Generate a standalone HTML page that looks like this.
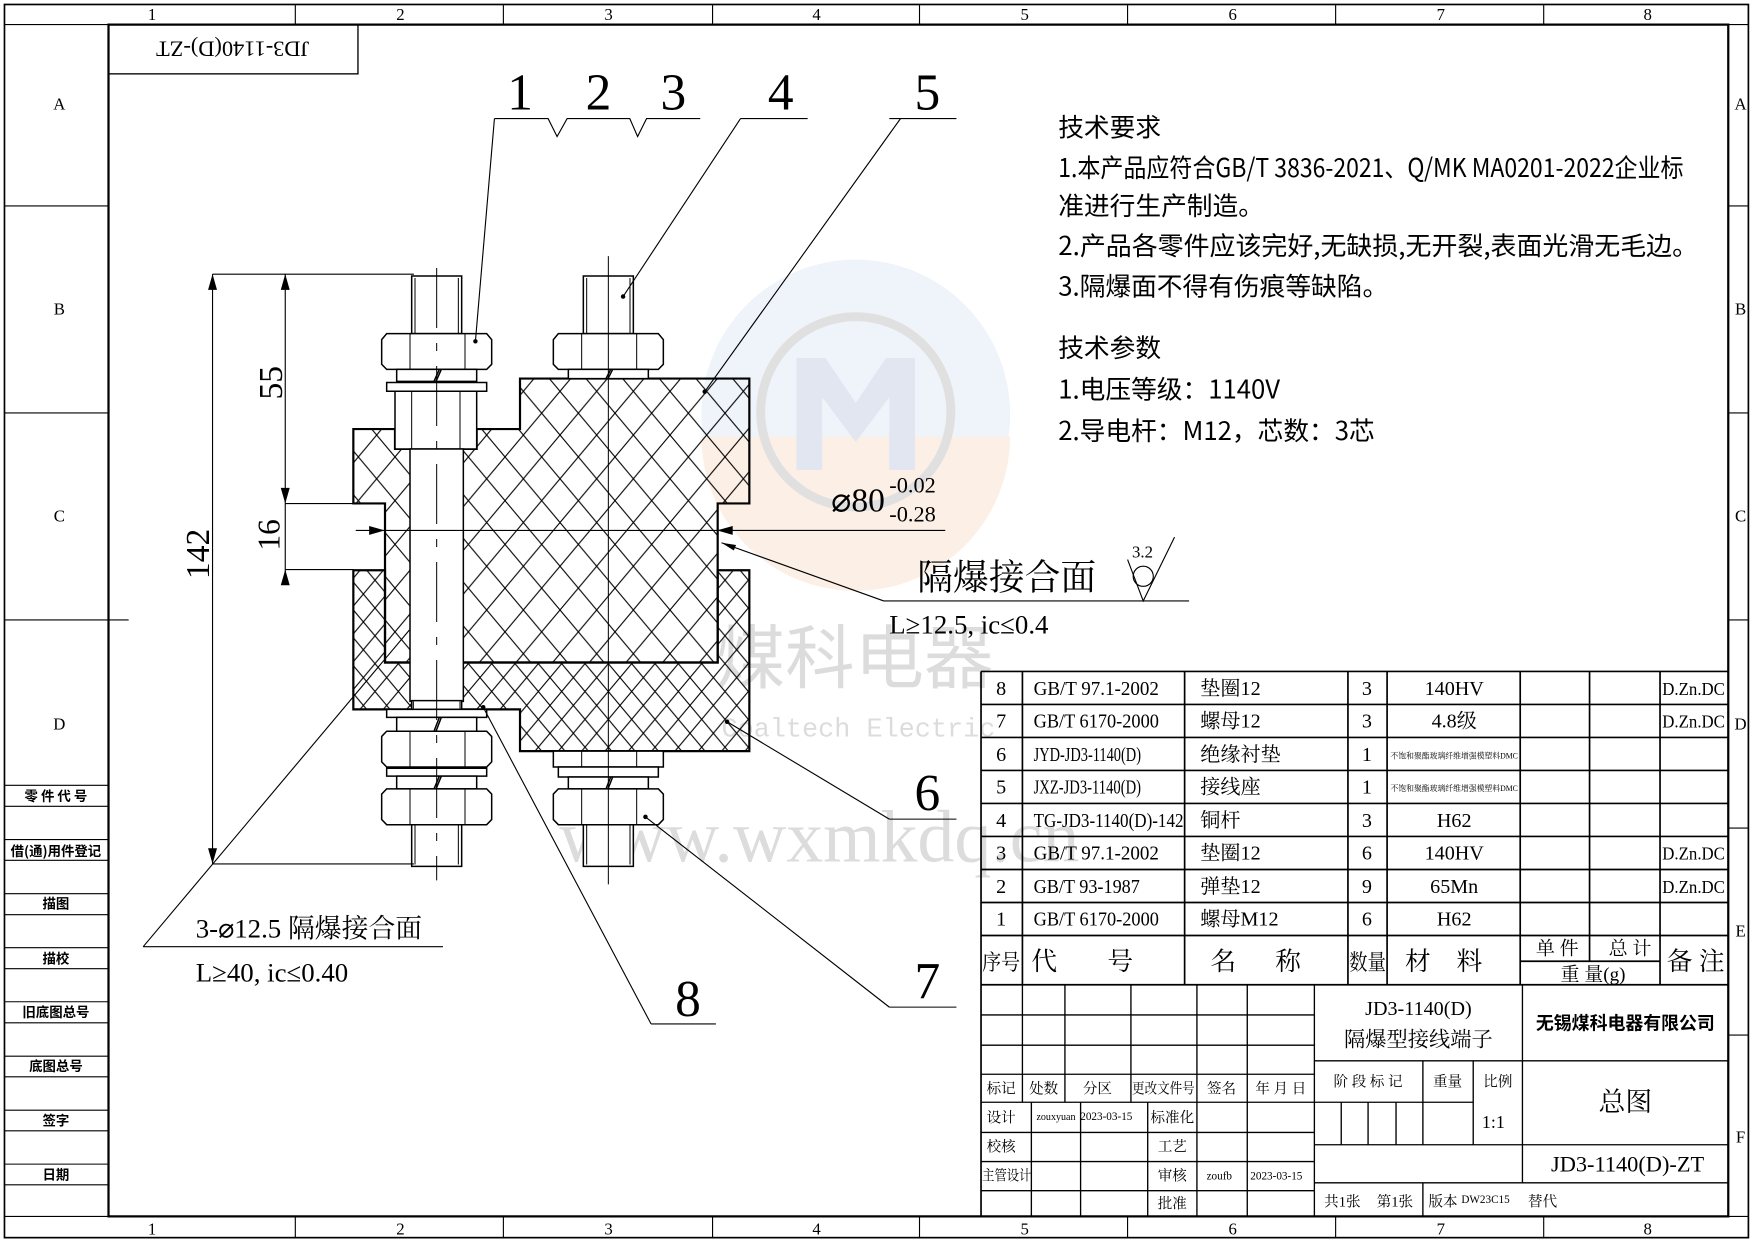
<!DOCTYPE html>
<html><head><meta charset="utf-8"><style>html,body{margin:0;padding:0;background:#fff}svg{display:block}</style></head><body>
<svg width="1754" height="1241" viewBox="0 0 1568 1109" preserveAspectRatio="none" xmlns="http://www.w3.org/2000/svg" font-family="'Liberation Serif','Noto Serif CJK SC',serif">
<defs>
<pattern id="h1" patternUnits="userSpaceOnUse" width="110" height="110"><path d="M0,0L110,110M110,0L0,110" stroke="#000" stroke-width="3"/></pattern>
<pattern id="h2" patternUnits="userSpaceOnUse" width="70" height="70"><path d="M0,0L70,70M70,0L0,70" stroke="#000" stroke-width="3"/></pattern>
</defs>
<rect width="1568" height="1109" fill="#fff"/>
<g opacity="0.55">
<circle cx="765" cy="370" r="138" fill="#e3ecf6"/>
<path d="M627,390 A138,138 0 0 0 903,390 Z" fill="#fbe2d3"/>
<circle cx="765" cy="368" r="85" fill="none" stroke="#c8c8c8" stroke-width="8"/>
<path d="M712,420 V320 H738 L765,360 L792,320 H818 V420 H795 V355 L765,395 L735,355 V420 Z" fill="#c9d3e6"/>
</g>
<text x="640" y="610" font-size="62" fill="#dcdcdc" font-family="'Noto Sans CJK SC',sans-serif">煤科电器</text>
<text x="645" y="658" font-size="24" fill="#dcdcdc" font-family="'Liberation Mono',monospace">Coaltech Electric</text>
<text x="500" y="770" font-size="66" fill="#dcdcdc">www.wxmkdq.cn</text>

<g fill="none" stroke="#000">
<rect x="4" y="4" width="1559" height="1102" stroke-width="1.5"/>
<rect x="97" y="22" width="1448" height="1065" stroke-width="2"/>
<path d="M4,22H97M1545,22H1563M4,1087H97M1545,1087H1563" stroke-width="1"/>
<path d="M264,4V22M450,4V22M637,4V22M822,4V22M1008,4V22M1194,4V22M1380,4V22M264,1087V1106M450,1087V1106M637,1087V1106M822,1087V1106M1008,1087V1106M1194,1087V1106M1380,1087V1106" stroke-width="1"/>
<path d="M4,184H97M4,369H97M4,554H115M1545,184H1563M1545,369H1563M1545,554H1563M1545,740H1563M1545,925H1563" stroke-width="1"/>
<rect x="97" y="22" width="223" height="44" stroke-width="1.2"/>
<path d="M4,701.8H97M4,720.6H97M4,750.3H97M4,768.8H97M4,798.6H97M4,817.4H97M4,846.9H97M4,865.7H97M4,895.2H97M4,914H97M4,943.8H97M4,962.3H97M4,992.1H97M4,1010.5H97M4,1040.3H97M4,1058.8H97" stroke-width="1"/>
</g>
<g font-size="15" text-anchor="middle">
<text x="136" y="18">1</text><text x="358" y="18">2</text><text x="544" y="18">3</text><text x="730" y="18">4</text><text x="916" y="18">5</text><text x="1102" y="18">6</text><text x="1288" y="18">7</text><text x="1473" y="18">8</text>
<text x="136" y="1103">1</text><text x="358" y="1103">2</text><text x="544" y="1103">3</text><text x="730" y="1103">4</text><text x="916" y="1103">5</text><text x="1102" y="1103">6</text><text x="1288" y="1103">7</text><text x="1473" y="1103">8</text>
<text x="53" y="98">A</text><text x="53" y="281">B</text><text x="53" y="466">C</text><text x="53" y="652">D</text>
<text x="1556" y="98">A</text><text x="1556" y="281">B</text><text x="1556" y="466">C</text><text x="1556" y="652">D</text><text x="1556" y="837">E</text><text x="1556" y="1021">F</text>
</g>
<g font-size="12" text-anchor="middle" font-family="'Noto Sans CJK SC',sans-serif" font-weight="bold">
<text x="50" y="716">零 件 代 号</text><text x="50" y="765">借(通)用件登记</text><text x="50" y="812">描图</text><text x="50" y="861">描校</text><text x="50" y="909">旧底图总号</text><text x="50" y="957">底图总号</text><text x="50" y="1006">签字</text><text x="50" y="1054">日期</text>
</g>
<text transform="translate(208,44) rotate(180)" x="0" y="7" font-size="20" text-anchor="middle">JD3-1140(D)-ZT</text>

<g transform="matrix(0.29799,0,0,0.35531,303.95,232.43)" stroke="#000">
<path d="M40,425H165V475H410V425H540V298H1228V612H1133V1012H135V612H40Z" fill="url(#h1)" stroke-width="2.2" vector-effect="non-scaling-stroke"/>
<path d="M40,780H135V1012H1133V780H1228V1235H540V1130H40Z" fill="url(#h2)" stroke-width="2.2" vector-effect="non-scaling-stroke"/>
<g fill="#fff" stroke-width="1.5">
<rect x="215" y="40" width="150" height="145" vector-effect="non-scaling-stroke"/>
<path d="M140,185H440L455,200V262L440,275H140L125,262V200Z" vector-effect="non-scaling-stroke"/>
<rect x="170" y="275" width="240" height="30" vector-effect="non-scaling-stroke"/>
<rect x="140" y="308" width="300" height="22" vector-effect="non-scaling-stroke"/>
<rect x="165" y="330" width="245" height="145" vector-effect="non-scaling-stroke"/>
<rect x="210" y="475" width="160" height="635" vector-effect="non-scaling-stroke"/>
<rect x="215" y="1108" width="150" height="22" vector-effect="non-scaling-stroke"/>
<rect x="140" y="1130" width="300" height="20" vector-effect="non-scaling-stroke"/>
<rect x="170" y="1150" width="240" height="35" vector-effect="non-scaling-stroke"/>
<path d="M140,1185H440L455,1198V1262L440,1275H140L125,1262V1198Z" vector-effect="non-scaling-stroke"/>
<rect x="140" y="1278" width="300" height="20" vector-effect="non-scaling-stroke"/>
<rect x="170" y="1298" width="240" height="32" vector-effect="non-scaling-stroke"/>
<path d="M140,1330H440L455,1343V1407L440,1420H140L125,1407V1343Z" vector-effect="non-scaling-stroke"/>
<rect x="215" y="1420" width="150" height="105" vector-effect="non-scaling-stroke"/>
<rect x="730" y="40" width="150" height="145" vector-effect="non-scaling-stroke"/>
<path d="M655,185H955L970,200V262L955,275H655L640,262V200Z" vector-effect="non-scaling-stroke"/>
<rect x="685" y="275" width="240" height="23" vector-effect="non-scaling-stroke"/>
<rect x="640" y="1235" width="330" height="40" vector-effect="non-scaling-stroke"/>
<rect x="655" y="1275" width="300" height="25" vector-effect="non-scaling-stroke"/>
<rect x="685" y="1300" width="240" height="30" vector-effect="non-scaling-stroke"/>
<path d="M655,1330H955L970,1343V1407L955,1420H655L640,1407V1343Z" vector-effect="non-scaling-stroke"/>
<rect x="730" y="1420" width="150" height="105" vector-effect="non-scaling-stroke"/>
</g>
<g fill="none" stroke-width="1">
<path d="M225,45V185M355,45V185M210,185V275M375,185V275M215,330V475M360,330V475M225,1420V1520M355,1420V1520M210,1185V1275M375,1185V1275M210,1330V1420M375,1330V1420M740,45V185M870,45V185M725,185V275M890,185V275M725,1235V1275M890,1235V1275M725,1330V1420M890,1330V1420M740,1420V1520M870,1420V1520M220,1110V1130M360,1110V1130" vector-effect="non-scaling-stroke"/>
<path d="M282,305L298,275M288,305L304,275M282,1185L298,1150M288,1185L304,1150M282,1330L298,1298M288,1330L304,1298M798,298L812,275M804,298L818,275M798,1330L812,1300M804,1330L818,1300" vector-effect="non-scaling-stroke" stroke-width="1.5"/>
<path d="M290,20V1560" stroke-dasharray="60,15,8,15" vector-effect="non-scaling-stroke"/>
<path d="M805,-10V1570" vector-effect="non-scaling-stroke"/>
</g>
</g>

<g stroke="#000" stroke-width="1" fill="none">
<path d="M190,245H370M190,772H370M190,245V772M255,245V450M255,450H316M255,509H316M255,440V520M318,474H845"/>
<path d="M128,846H396M128,846L366,563"/>
<path d="M442,106H490L498,122L507,106H563L570,122L578,106H626M442,106L425,305"/>
<path d="M662,106H722M662,106L557,265M795,106H855M805,106L630,350"/>
<path d="M795,732H855M795,732L650,645M795,900H855M795,900L577,730M582,915H640M582,915L432,632"/>
<path d="M790,537H1063M790,537L645,485"/>
<path d="M1008,500L1022,537L1050,480"/>
<circle cx="1022" cy="515" r="9"/>
</g>
<g fill="#000">
<path d="M190,245l-4,14h8zM190,772l-4,-14h8zM255,245l-4,14h8zM255,450l-4,-14h8zM255,509l-4,14h8z"/>
<path d="M344,474l-14,-4v8zM641,474l14,-4v8zM645,485l13,2l-2,5z"/>
<circle cx="425" cy="305" r="2"/><circle cx="557" cy="265" r="2"/><circle cx="630" cy="350" r="2"/><circle cx="650" cy="645" r="2"/><circle cx="577" cy="730" r="2"/><circle cx="432" cy="632" r="2"/>
</g>
<g font-size="26">
<text transform="translate(187,495) rotate(-90)" text-anchor="middle" font-size="30">142</text>
<text transform="translate(252,342) rotate(-90)" text-anchor="middle" font-size="30">55</text>
<text transform="translate(250,478) rotate(-90)" text-anchor="middle" font-size="28">16</text>
<text x="743" y="457" font-size="30">⌀80</text>
<text x="795" y="440" font-size="20">-0.02</text>
<text x="795" y="466" font-size="20">-0.28</text>
<text x="820" y="527" font-size="32">隔爆接合面</text>
<text x="1012" y="498" font-size="15">3.2</text>
<text x="795" y="566" font-size="24">L≥12.5, ic≤0.4</text>
<text x="175" y="838" font-size="24">3-⌀12.5 隔爆接合面</text>
<text x="175" y="877" font-size="24">L≥40, ic≤0.40</text>
</g>
<g font-size="46" text-anchor="middle">
<text x="465" y="98">1</text><text x="535" y="98">2</text><text x="602" y="98">3</text><text x="698" y="98">4</text><text x="829" y="98">5</text>
<text x="829" y="724">6</text><text x="829" y="892">7</text><text x="615" y="908">8</text>
</g>

<g font-size="23" font-family="'Noto Sans CJK SC',sans-serif">
<text x="946" y="122">技术要求</text>
<text x="946" y="158" textLength="559" lengthAdjust="spacingAndGlyphs">1.本产品应符合GB/T 3836-2021、Q/MK MA0201-2022企业标</text>
<text x="946" y="192">准进行生产制造。</text>
<text x="946" y="228" textLength="572" lengthAdjust="spacingAndGlyphs">2.产品各零件应该完好,无缺损,无开裂,表面光滑无毛边。</text>
<text x="946" y="264">3.隔爆面不得有伤痕等缺陷。</text>
<text x="946" y="319">技术参数</text>
<text x="946" y="356">1.电压等级：1140V</text>
<text x="946" y="393">2.导电杆：M12，芯数：3芯</text>
</g>

<g stroke="#000" fill="none">
<path d="M877,600H1545M877,629.5H1545M877,659H1545M877,688.5H1545M877,718H1545M877,747.5H1545M877,777H1545M877,806.5H1545M877,836H1545M877,880H1545M1359,859H1484" stroke-width="1.5"/>
<path d="M877,600V1087M914,600V880M1059,600V880M1205,600V880M1240,600V880M1359,600V880M1421,600V859M1484,600V880" stroke-width="1.5"/>
<path d="M877,907H1175M877,934H1175M877,960H1175M877,985H1175M877,1012H1175M877,1038H1175M877,1064H1175M914,880V985M952,880V985M1011,880V985M1070,880V1087M1115,880V1087M922,985V1087M966,985V1087M1026,985V1087M1175,880V1087M1361,880V1057M1175,948H1545M1175,985H1317M1272,948V1023M1317,948V1023M1199,985V1023M1223,985V1023M1248,985V1023M1175,1023H1545M1175,1057H1545M1272,1057V1087" stroke-width="1.2"/>
</g>
<g font-size="18">
<g text-anchor="middle"><text x="895" y="621">8</text><text x="895" y="650">7</text><text x="895" y="680">6</text><text x="895" y="709">5</text><text x="895" y="739">4</text><text x="895" y="768">3</text><text x="895" y="798">2</text><text x="895" y="827">1</text>
<text x="1222" y="621">3</text><text x="1222" y="650">3</text><text x="1222" y="680">1</text><text x="1222" y="709">1</text><text x="1222" y="739">3</text><text x="1222" y="768">6</text><text x="1222" y="798">9</text><text x="1222" y="827">6</text>
<text x="1300" y="621">140HV</text><text x="1300" y="650">4.8级</text><text x="1300" y="739">H62</text><text x="1300" y="768">140HV</text><text x="1300" y="798">65Mn</text><text x="1300" y="827">H62</text>
<text x="1300" y="678" font-size="7">不饱和聚酯玻璃纤维增强模塑料DMC</text><text x="1300" y="707" font-size="7">不饱和聚酯玻璃纤维增强模塑料DMC</text></g>
<text x="924" y="621" textLength="112" lengthAdjust="spacingAndGlyphs">GB/T 97.1-2002</text><text x="924" y="650" textLength="112" lengthAdjust="spacingAndGlyphs">GB/T 6170-2000</text><text x="924" y="680" textLength="96" lengthAdjust="spacingAndGlyphs">JYD-JD3-1140(D)</text><text x="924" y="709" textLength="96" lengthAdjust="spacingAndGlyphs">JXZ-JD3-1140(D)</text><text x="924" y="739" textLength="134" lengthAdjust="spacingAndGlyphs">TG-JD3-1140(D)-142</text><text x="924" y="768" textLength="112" lengthAdjust="spacingAndGlyphs">GB/T 97.1-2002</text><text x="924" y="798" textLength="95" lengthAdjust="spacingAndGlyphs">GB/T 93-1987</text><text x="924" y="827" textLength="112" lengthAdjust="spacingAndGlyphs">GB/T 6170-2000</text>
<text x="1073" y="621">垫圈12</text><text x="1073" y="650">螺母12</text><text x="1073" y="680">绝缘衬垫</text><text x="1073" y="709">接线座</text><text x="1073" y="739">铜杆</text><text x="1073" y="768">垫圈12</text><text x="1073" y="798">弹垫12</text><text x="1073" y="827">螺母M12</text>
<g font-size="16"><text x="1486" y="621" textLength="56" lengthAdjust="spacingAndGlyphs">D.Zn.DC</text><text x="1486" y="650" textLength="56" lengthAdjust="spacingAndGlyphs">D.Zn.DC</text><text x="1486" y="768" textLength="56" lengthAdjust="spacingAndGlyphs">D.Zn.DC</text><text x="1486" y="798" textLength="56" lengthAdjust="spacingAndGlyphs">D.Zn.DC</text></g>
</g>
<g font-size="23">
<text x="878" y="867" font-size="20" textLength="34" lengthAdjust="spacingAndGlyphs">序号</text><text x="922" y="867">代</text><text x="990" y="867">号</text><text x="1082" y="867">名</text><text x="1140" y="867">称</text><text x="1206" y="867" font-size="20" textLength="33" lengthAdjust="spacingAndGlyphs">数量</text><text x="1256" y="867">材</text><text x="1302" y="867">料</text>
<text x="1373" y="853" font-size="17">单 件</text><text x="1438" y="853" font-size="17">总 计</text><text x="1395" y="876" font-size="17">重 量(g)</text><text x="1490" y="867">备 注</text>
</g>
<g font-size="13" text-anchor="middle">
<text x="895" y="977">标记</text><text x="933" y="977">处数</text><text x="981" y="977">分区</text><text x="1040" y="977" textLength="56" lengthAdjust="spacingAndGlyphs">更改文件号</text><text x="1092" y="977">签名</text><text x="1145" y="977">年 月 日</text>
<text x="895" y="1003">设计</text><text x="944" y="1001" font-size="9">zouxyuan</text><text x="989" y="1001" font-size="10">2023-03-15</text><text x="1048" y="1003">标准化</text>
<text x="895" y="1029">校核</text><text x="1048" y="1029">工艺</text>
<text x="900" y="1055" textLength="44" lengthAdjust="spacingAndGlyphs">主管设计</text><text x="1048" y="1055">审核</text><text x="1090" y="1054" font-size="10">zoufb</text><text x="1141" y="1054" font-size="10">2023-03-15</text>
<text x="1048" y="1080">批准</text>
<text x="1223" y="971">阶 段 标 记</text><text x="1294" y="971">重量</text><text x="1339" y="971">比例</text>
<text x="1335" y="1008" font-size="16">1:1</text>
<text x="1200" y="1078">共1张</text><text x="1247" y="1078">第1张</text><text x="1290" y="1078">版本</text><text x="1328" y="1075" font-size="10">DW23C15</text>
<text x="1379" y="1078">替代</text>
<text x="1268" y="907" font-size="18">JD3-1140(D)</text><text x="1268" y="935" font-size="19">隔爆型接线端子</text>
<text x="1453" y="920" font-size="16" font-weight="bold" font-family="'Noto Sans CJK SC',sans-serif">无锡煤科电器有限公司</text>
<text x="1453" y="993" font-size="24">总图</text>
<text x="1455" y="1047" font-size="20">JD3-1140(D)-ZT</text>
</g>
</svg>
</body></html>
